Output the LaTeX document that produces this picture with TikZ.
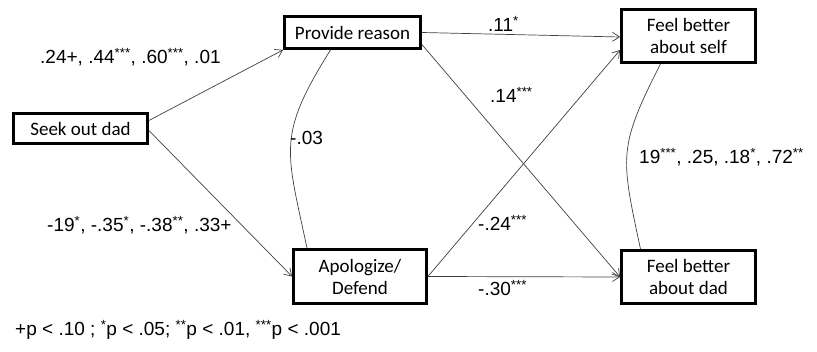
\documentclass[tikz,border=0pt]{standalone}
\usepackage{fontspec}
\setmainfont{Liberation Sans}
\newfontfamily\boxfont{Carlito}
\usetikzlibrary{arrows.meta}
\newcommand{\sig}[1]{\textsuperscript{#1}}

\begin{document}
\begin{tikzpicture}[x=1pt,y=-1pt,>={Straight Barb[length=7pt,width=9pt]},
	varbox/.style={draw,line width=2.8pt,align=center,inner sep=0pt,font=\boxfont\fontsize{19}{22}\selectfont},
	link/.style={->,line width=0.7pt,draw=black!75},
	corr/.style={line width=0.7pt,draw=black!75},
	coef/.style={anchor=west,inner sep=0pt,font=\fontsize{19}{22}\selectfont}]
		\useasboundingbox (0,0) rectangle (817,352);
		% boxes
		\node[varbox,minimum width=134pt,minimum height=30pt] (seek) at (80.5,128.5) {Seek out dad};
		\node[varbox,minimum width=136pt,minimum height=32pt] (prov) at (352.5,32.5) {Provide reason};
		\node[varbox,minimum width=133pt,minimum height=54pt] (apol) at (360,276.5) {Apologize/\\Defend};
		\node[varbox,minimum width=134pt,minimum height=53pt] (self) at (688.5,36) {Feel better\\about self};
		\node[varbox,minimum width=134pt,minimum height=53pt] (dad) at (688.5,277) {Feel better\\about dad};
		% paths
		\draw[link] ([yshift=8pt]seek.east) -- (prov.south west);
		\draw[link] ([yshift=-2pt]seek.east) -- (apol.west);
		\draw[link] (prov.east) -- ([yshift=-1pt]self.west);
		\draw[link] ([yshift=-12pt]prov.east) -- (dad.west);
		\draw[link] (apol.east) -- ([yshift=-14pt]self.west);
		\draw[link] (apol.east) -- (dad.west);
		\draw[corr] ([xshift=-22pt]prov.south) to[out=238,in=102,looseness=1.3] ([xshift=-53pt]apol.north);
		\draw[corr] ([xshift=-28pt]self.south) to[out=243,in=102,looseness=1.3] ([xshift=-48pt]dad.north);
		% coefficients
		\node[coef] (c1) at (40,57) {.24+, .44\sig{***}, .60\sig{***}, .01};
		\node[coef] (c2) at (47,225) {-19\sig{*}, -.35\sig{*}, -.38\sig{**}, .33+};
		\node[coef] (c3) at (290,138) {-.03};
		\node[coef] (c4) at (488,24) {.11\sig{*}};
		\node[coef] (c5) at (490,95) {.14\sig{***}};
		\node[coef] (c6) at (478,223) {-.24\sig{***}};
		\node[coef] (c7) at (478,288) {-.30\sig{***}};
		\node[coef] (c8) at (639,157) {19\sig{***}, .25, .18\sig{*}, .72\sig{**}};
		\node[coef] (key) at (15,330) {+p < .10 ; \sig{*}p < .05; \sig{**}p < .01, \sig{***}p < .001};
\end{tikzpicture}
\end{document}
